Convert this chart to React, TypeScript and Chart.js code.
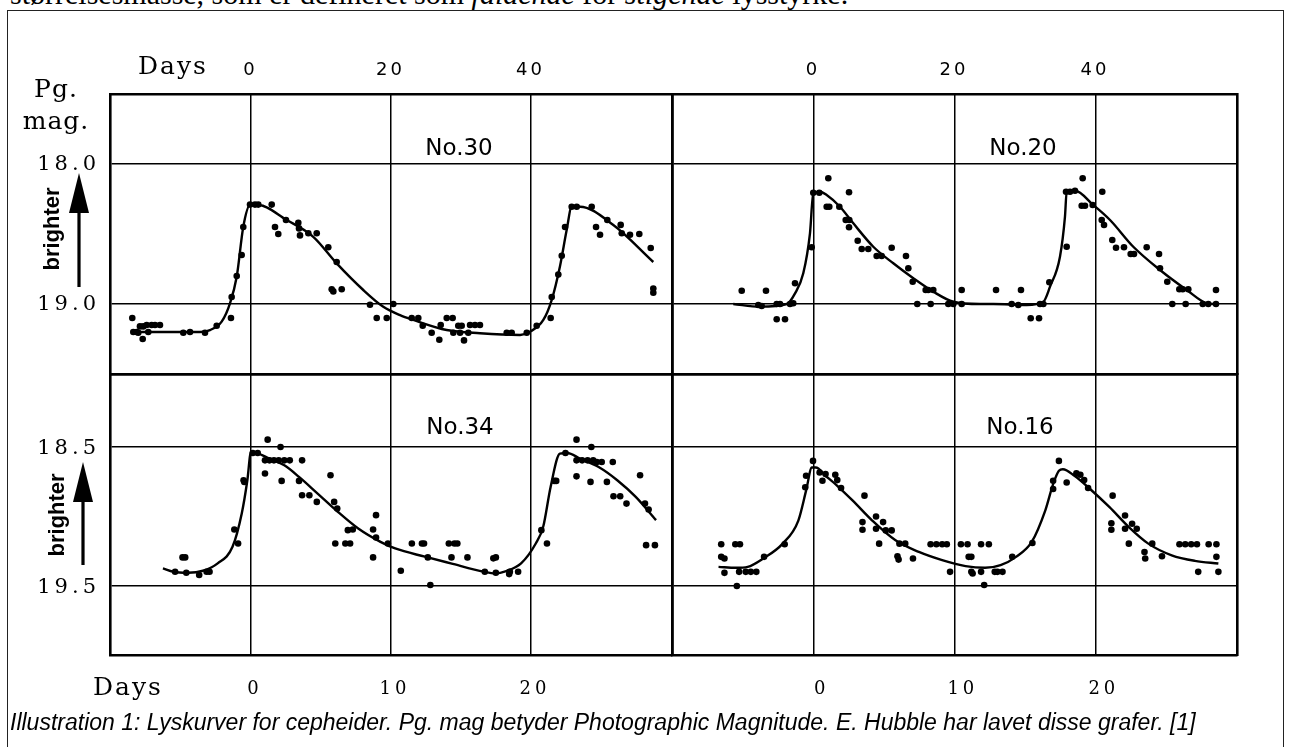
import React, { useEffect, useRef } from "react";
import { Chart, registerables } from "chart.js";

Chart.register(...registerables);

const W = 1291;
const H = 747;

type Pt = [number, number];

// ---------- Data (day, photographic magnitude) ----------
const no30Points: Pt[] = [
  [-16.96, 19.1], [-16.81, 19.2], [-16.33, 19.2], [-15.86, 19.16], [-15.39, 19.16], [-14.9, 19.15],
  [-14.19, 19.15], [-13.71, 19.15], [-13.0, 19.15], [-16.1, 19.205], [-15.47, 19.25], [-14.67, 19.2],
  [-9.67, 19.205], [-8.71, 19.2], [-6.57, 19.205], [-4.9, 19.155], [-2.86, 19.1], [-2.76, 18.95],
  [-2.04, 18.8], [-1.33, 18.65], [-1.1, 18.45], [-0.14, 18.29], [0.57, 18.29], [1.04, 18.29],
  [2.96, 18.29], [3.43, 18.45], [3.9, 18.5], [5.0, 18.4], [6.76, 18.42], [6.86, 18.46], [7.0, 18.51],
  [8.19, 18.495], [9.39, 18.495], [11.04, 18.595], [12.24, 18.7], [11.53, 18.895], [11.76, 18.91],
  [12.96, 18.895], [17.0, 19.005], [17.96, 19.1], [19.39, 19.1], [20.33, 19.0], [22.96, 19.1],
  [23.9, 19.1], [24.53, 19.155], [25.81, 19.205], [26.9, 19.255], [27.1, 19.15], [27.96, 19.1],
  [28.81, 19.1], [28.9, 19.205], [29.61, 19.155], [30.1, 19.155], [29.86, 19.205], [30.43, 19.26],
  [31.04, 19.205], [31.29, 19.15], [32.0, 19.15], [32.71, 19.15], [36.53, 19.205], [37.24, 19.205],
  [39.39, 19.205], [40.81, 19.155], [42.81, 19.1], [42.96, 18.95], [43.9, 18.79], [44.39, 18.655],
  [44.86, 18.45], [45.81, 18.305], [46.53, 18.305], [48.67, 18.305], [49.29, 18.45], [49.86, 18.505],
  [50.9, 18.4], [52.81, 18.435], [52.96, 18.495], [54.14, 18.505], [55.47, 18.5], [57.1, 18.6],
  [57.47, 18.89], [57.47, 18.92],
];
const no30Curve: Pt[] = [
  [-17.04, 19.2], [-7.29, 19.2], [-5.86, 19.186], [-4.19, 19.126], [-3.0, 18.995], [-2.04, 18.805],
  [-1.1, 18.448], [-0.14, 18.293], [1.04, 18.293], [5.1, 18.4], [8.9, 18.52], [12.24, 18.71],
  [16.04, 18.9], [18.9, 19.02], [21.29, 19.08], [23.19, 19.114], [27.96, 19.186], [32.71, 19.209],
  [38.43, 19.221], [39.86, 19.198], [41.76, 19.114], [42.96, 18.97], [44.14, 18.73], [45.1, 18.47],
  [45.81, 18.305], [47.0, 18.305], [51.76, 18.436], [57.47, 18.7],
];

const no20Points: Pt[] = [
  [-10.18, 18.905], [-6.74, 18.905], [-7.83, 19.007], [-7.35, 19.014], [-5.22, 19.0], [-4.75, 19.0],
  [-5.22, 19.109], [-4.04, 19.109], [-3.33, 19.0], [-2.87, 18.995], [-2.62, 18.852], [-0.26, 18.595],
  [-0.03, 18.205], [0.82, 18.205], [1.87, 18.305], [2.24, 18.305], [2.1, 18.102], [3.66, 18.305],
  [4.57, 18.4], [5.08, 18.4], [5.04, 18.452], [5.04, 18.202], [6.27, 18.548], [6.84, 18.607],
  [7.77, 18.607], [8.96, 18.657], [9.67, 18.657], [11.09, 18.598], [13.12, 18.657], [13.45, 18.745],
  [14.07, 18.841], [15.91, 18.9], [16.28, 18.9], [16.99, 18.9], [14.72, 19.0], [16.62, 19.0],
  [19.12, 19.0], [19.83, 19.0], [21.02, 19.0], [21.02, 18.9], [25.89, 18.9], [29.43, 18.9],
  [28.11, 19.0], [29.05, 19.007], [32.13, 19.0], [32.6, 19.0], [30.81, 19.102], [31.99, 19.102],
  [33.45, 18.845], [35.91, 18.591], [35.82, 18.198], [36.38, 18.198], [37.09, 18.191], [38.18, 18.102],
  [38.04, 18.298], [38.51, 18.298], [39.6, 18.293], [40.96, 18.198], [40.88, 18.4], [41.21, 18.436],
  [42.38, 18.543], [42.91, 18.598], [44.04, 18.595], [44.99, 18.643], [45.46, 18.643], [47.26, 18.595],
  [49.01, 18.643], [49.15, 18.745], [50.18, 18.841], [51.89, 18.895], [52.37, 18.895], [53.16, 18.895],
  [50.89, 19.0], [52.79, 19.0], [55.21, 19.0], [56.0, 19.0], [57.09, 19.0], [57.09, 18.9],
];
const no20Curve: Pt[] = [
  [-11.38, 19.0], [-7.59, 19.019], [-3.8, 19.0], [-2.62, 18.924], [-1.45, 18.781], [-0.5, 18.495],
  [-0.03, 18.209], [0.92, 18.198], [1.87, 18.221], [3.76, 18.305], [5.65, 18.424], [8.48, 18.591],
  [11.32, 18.709], [14.16, 18.816], [16.99, 18.912], [19.83, 18.984], [23.62, 19.0], [25.5, 19.0],
  [30.24, 19.007], [32.6, 18.984], [33.55, 18.876], [34.96, 18.662], [35.67, 18.376], [35.91, 18.198],
  [37.09, 18.191], [39.69, 18.293], [42.06, 18.4], [45.36, 18.591], [49.15, 18.757], [52.94, 18.9],
  [55.77, 18.995], [56.7, 19.0],
];

const no34Points: Pt[] = [
  [-4.89, 19.294], [-4.7, 19.294], [-5.42, 19.397], [-4.62, 19.404], [-3.7, 19.421], [-3.17, 19.397],
  [-2.96, 19.397], [-1.19, 19.093], [-0.92, 19.194], [-0.53, 18.739], [-0.48, 18.751], [0.13, 18.543],
  [0.48, 18.543], [1.0, 18.596], [1.32, 18.596], [1.64, 18.596], [1.98, 18.596], [2.38, 18.596],
  [2.77, 18.596], [1.19, 18.447], [2.11, 18.5], [1.0, 18.691], [2.19, 18.744], [3.65, 18.596],
  [3.43, 18.744], [3.65, 18.847], [4.17, 18.847], [4.7, 18.895], [5.68, 18.703], [5.94, 18.895],
  [6.16, 18.943], [6.02, 19.194], [6.74, 19.194], [7.08, 19.194], [6.92, 19.098], [7.27, 19.093],
  [8.93, 18.99], [8.72, 19.093], [8.93, 19.151], [8.72, 19.294], [9.78, 19.194], [10.7, 19.39],
  [11.49, 19.194], [12.21, 19.194], [12.36, 19.194], [12.63, 19.294], [12.81, 19.493], [14.13, 19.194],
  [14.53, 19.194], [14.74, 19.194], [14.32, 19.294], [15.46, 19.294], [16.7, 19.397], [17.31, 19.301],
  [17.49, 19.294], [17.49, 19.404], [18.44, 19.414], [18.49, 19.397], [19.08, 19.397], [20.74, 19.098],
  [21.14, 19.194], [21.66, 18.744], [21.8, 18.744], [22.46, 18.543], [23.25, 18.447], [23.25, 18.596],
  [23.25, 18.711], [23.65, 18.596], [24.04, 18.596], [24.44, 18.596], [24.7, 18.608], [24.31, 18.5],
  [24.25, 18.751], [25.05, 18.608], [25.42, 18.751], [25.84, 18.608], [25.89, 18.854], [26.37, 18.854],
  [26.82, 18.907], [27.79, 18.703], [28.14, 18.907], [28.4, 18.95], [28.22, 19.206], [28.85, 19.206],
];
const no34Curve: Pt[] = [
  [-6.29, 19.373], [-5.55, 19.397], [-4.49, 19.404], [-3.43, 19.39], [-2.38, 19.337], [-1.32, 19.218],
  [-0.66, 18.978], [-0.26, 18.739], [0.0, 18.536], [0.4, 18.543], [1.32, 18.584], [2.38, 18.632],
  [3.43, 18.715], [4.76, 18.835], [6.08, 18.955], [7.66, 19.086], [9.25, 19.182], [10.3, 19.23],
  [12.42, 19.289], [14.27, 19.337], [16.64, 19.397], [17.44, 19.409], [18.23, 19.392], [19.29, 19.337],
  [20.34, 19.194], [20.87, 19.074], [21.4, 18.787], [22.06, 18.548], [22.59, 18.543], [23.51, 18.584],
  [24.83, 18.644], [26.16, 18.739], [27.48, 18.859], [28.93, 19.026],
];

const no16Points: Pt[] = [
  [-6.57, 19.2], [-5.57, 19.2], [-5.24, 19.2], [-6.57, 19.29], [-6.34, 19.302], [-6.34, 19.405],
  [-5.46, 19.5], [-5.3, 19.398], [-4.83, 19.398], [-4.47, 19.398], [-4.08, 19.398], [-3.53, 19.29],
  [-2.07, 19.2], [-0.61, 18.79], [-0.55, 18.707], [-0.06, 18.6], [0.41, 18.683], [0.61, 18.743],
  [0.83, 18.695], [1.52, 18.7], [1.66, 18.738], [1.93, 18.795], [3.59, 18.85], [3.45, 19.04],
  [3.45, 19.095], [4.41, 19.0], [4.41, 19.088], [4.91, 19.04], [5.1, 19.1], [5.52, 19.1],
  [4.63, 19.195], [6.07, 19.195], [6.48, 19.195], [5.93, 19.286], [6.01, 19.31], [7.03, 19.302],
  [8.28, 19.2], [8.69, 19.2], [9.1, 19.2], [9.43, 19.2], [10.43, 19.2], [10.9, 19.2], [10.98, 19.29],
  [11.17, 19.29], [9.66, 19.398], [11.17, 19.398], [11.26, 19.41], [11.86, 19.398], [12.08, 19.493],
  [12.83, 19.398], [13.02, 19.398], [11.86, 19.2], [12.41, 19.2], [13.38, 19.398], [14.07, 19.29],
  [15.5, 19.19], [16.97, 18.802], [16.97, 18.743], [17.38, 18.6], [17.93, 18.755], [18.62, 18.69],
  [18.9, 18.7], [19.17, 18.738], [19.45, 18.795], [21.19, 18.85], [21.1, 19.048], [21.1, 19.095],
  [22.07, 18.993], [22.07, 19.088], [22.57, 19.052], [22.9, 19.088], [22.34, 19.195], [23.45, 19.255],
  [23.5, 19.302], [24.0, 19.195], [24.69, 19.286], [25.93, 19.2], [26.34, 19.2], [26.76, 19.2],
  [27.17, 19.2], [28.0, 19.2], [28.55, 19.2], [28.55, 19.29], [27.26, 19.398], [28.69, 19.398],
];
const no16Curve: Pt[] = [
  [-6.76, 19.362], [-5.52, 19.369], [-4.69, 19.362], [-3.59, 19.302], [-2.21, 19.195], [-1.1, 19.029],
  [-0.55, 18.814], [-0.14, 18.648], [0.14, 18.648], [0.83, 18.707], [1.66, 18.779], [2.76, 18.886],
  [4.14, 19.029], [5.79, 19.171], [7.45, 19.255], [9.1, 19.314], [10.76, 19.357], [12.14, 19.369],
  [13.24, 19.35], [14.34, 19.29], [15.45, 19.183], [16.41, 18.957], [16.97, 18.767], [17.38, 18.671],
  [17.66, 18.66], [18.48, 18.707], [19.59, 18.802], [20.97, 18.933], [22.34, 19.076], [23.72, 19.195],
  [25.38, 19.279], [27.03, 19.319], [28.69, 19.338],
];

// ---------- Ticks & labels ----------
const topDayTicks = [0, 20, 40];
const topDayLabels = ["0", "20", "40"];
const bottomDayTicks = [0, 10, 20];
const bottomDayLabels = ["0", "10", "20"];
const topMagTicks = [18, 19];
const topMagLabels = ["18.0", "19.0"];
const bottomMagTicks = [18.5, 19.5];
const bottomMagLabels = ["18.5", "19.5"];
const starNames = ["No.30", "No.20", "No.34", "No.16"];

const topSentence = ["størrelsesmasse, som er defineret som ", "faldende", " for ", "stigende", " lysstyrke."];
const captionText =
  "Illustration 1: Lyskurver for cepheider. Pg. mag betyder Photographic Magnitude. E. Hubble har lavet disse grafer. [1]";

// ---------- Layout (pixels) ----------
const SERIF = '"DejaVu Serif", serif';
const SANS = '"DejaVu Sans", sans-serif';

const PANELS = [
  {
    name: starNames[0], points: no30Points, curve: no30Curve,
    box: [110, 94, 672, 374], xr: [-20.14, 60.14], yr: [17.5, 19.5],
    xTicks: topDayTicks, yTicks: topMagTicks, title: [459, 155],
    xl: { values: topDayTicks, labels: topDayLabels, base: 75, dx: -2, font: `18px ${SANS}`, ls: 3 },
    yl: { values: topMagTicks, labels: topMagLabels, right: 96, dy: 6, font: `21px ${SERIF}`, ls: 4 },
    decor: true,
  },
  {
    name: starNames[1], points: no20Points, curve: no20Curve,
    box: [672, 94, 1237, 374], xr: [-20.07, 60.07], yr: [17.5, 19.5],
    xTicks: topDayTicks, yTicks: topMagTicks, title: [1023, 155],
    xl: { values: topDayTicks, labels: topDayLabels, base: 75, dx: -2, font: `18px ${SANS}`, ls: 3 },
    yl: null, decor: false,
  },
  {
    name: starNames[2], points: no34Points, curve: no34Curve,
    box: [110, 374, 672, 655], xr: [-10.07, 30.07], yr: [17.975, 19.996],
    xTicks: bottomDayTicks, yTicks: bottomMagTicks, title: [460, 434],
    xl: { values: bottomDayTicks, labels: bottomDayLabels, base: 694, dx: 2, font: `18px ${SERIF}`, ls: 4 },
    yl: { values: bottomMagTicks, labels: bottomMagLabels, right: 96, dy: 7, font: `21px ${SERIF}`, ls: 4 },
    decor: false,
  },
  {
    name: starNames[3], points: no16Points, curve: no16Curve,
    box: [672, 374, 1237, 655], xr: [-10.06, 30.01], yr: [17.975, 19.996],
    xTicks: bottomDayTicks, yTicks: bottomMagTicks, title: [1020, 434],
    xl: { values: bottomDayTicks, labels: bottomDayLabels, base: 694, dx: 6, font: `18px ${SERIF}`, ls: 4 },
    yl: null, decor: false,
  },
];

function drawArrow(ctx: CanvasRenderingContext2D, x: number, tipY: number, baseY: number, endY: number) {
  ctx.beginPath();
  ctx.moveTo(x, tipY);
  ctx.lineTo(x - 10, baseY);
  ctx.lineTo(x + 10, baseY);
  ctx.closePath();
  ctx.fill();
  ctx.fillRect(x - 1.6, baseY - 1, 3.2, endY - baseY + 1);
}

function drawDecor(ctx: CanvasRenderingContext2D) {
  ctx.save();
  ctx.fillStyle = "#000";
  ctx.textBaseline = "alphabetic";
  (ctx as any).letterSpacing = "2px";
  ctx.font = `25px ${SERIF}`;
  ctx.textAlign = "left";
  ctx.fillText("Days", 138, 74);
  ctx.fillText("Days", 93, 695);
  (ctx as any).letterSpacing = "1px";
  ctx.textAlign = "center";
  ctx.fillText("Pg.", 56, 97);
  ctx.fillText("mag.", 56, 129);
  (ctx as any).letterSpacing = "0px";
  ctx.font = `bold 22px "Liberation Sans", Arial, sans-serif`;
  const rot = (cx: number, cy: number) => {
    ctx.save();
    ctx.translate(cx, cy);
    ctx.rotate(-Math.PI / 2);
    ctx.textAlign = "center";
    ctx.textBaseline = "middle";
    ctx.fillText("brighter", 0, 0);
    ctx.restore();
  };
  rot(53, 229);
  rot(58, 515);
  drawArrow(ctx, 79, 173, 213, 287);
  drawArrow(ctx, 83, 462, 502, 565);
  ctx.restore();
}

function makePanelChart(canvas: HTMLCanvasElement, p: any) {
  const [l, t, r, b] = p.box;
  const textPlugin = {
    id: "panelText",
    afterDraw(chart: any) {
      const ctx: CanvasRenderingContext2D = chart.ctx;
      const xs = chart.scales.x;
      const ys = chart.scales.y;
      ctx.save();
      ctx.fillStyle = "#000";
      ctx.textBaseline = "alphabetic";
      ctx.font = `23px ${SANS}`;
      ctx.textAlign = "center";
      (ctx as any).letterSpacing = "0px";
      ctx.fillText(p.name, p.title[0], p.title[1]);
      if (p.xl) {
        ctx.font = p.xl.font;
        (ctx as any).letterSpacing = `${p.xl.ls}px`;
        ctx.textAlign = "center";
        p.xl.values.forEach((v: number, i: number) => {
          ctx.fillText(p.xl.labels[i], xs.getPixelForValue(v) + p.xl.dx + p.xl.ls / 2, p.xl.base);
        });
      }
      if (p.yl) {
        ctx.font = p.yl.font;
        (ctx as any).letterSpacing = `${p.yl.ls}px`;
        ctx.textAlign = "right";
        p.yl.values.forEach((v: number, i: number) => {
          ctx.fillText(p.yl.labels[i], p.yl.right + p.yl.ls, ys.getPixelForValue(v) + p.yl.dy);
        });
      }
      ctx.restore();
      if (p.decor) drawDecor(ctx);
    },
  };
  const edge = { display: true, color: "#000", width: 2.6 };
  const hidden = { display: false, drawTicks: false, tickLength: 0 };
  return new Chart(canvas, {
    type: "scatter",
    data: {
      datasets: [
        {
          data: p.points.map(([x, y]: Pt) => ({ x, y })),
          pointRadius: 3.3,
          pointBackgroundColor: "#000",
          pointBorderWidth: 0,
          showLine: false,
        },
        {
          data: p.curve.map(([x, y]: Pt) => ({ x, y })),
          showLine: true,
          pointRadius: 0,
          borderColor: "#000",
          borderWidth: 2.4,
          cubicInterpolationMode: "monotone",
          fill: false,
        },
      ],
    },
    options: {
      animation: false,
      responsive: false,
      devicePixelRatio: 1,
      events: [],
      layout: { padding: { left: l, top: t, right: W - r, bottom: H - b }, autoPadding: false },
      plugins: { legend: { display: false }, tooltip: { enabled: false }, title: { display: false } },
      scales: {
        x: {
          type: "linear", position: "bottom", min: p.xr[0], max: p.xr[1],
          grid: { color: "#000", lineWidth: 1.5, drawTicks: false, tickLength: 0 },
          border: edge, ticks: { display: false, padding: 0 },
          afterBuildTicks: (axis: any) => { axis.ticks = p.xTicks.map((v: number) => ({ value: v })); },
        },
        x2: {
          type: "linear", position: "top", min: p.xr[0], max: p.xr[1],
          grid: hidden, border: edge, ticks: { display: false, padding: 0 },
        },
        y: {
          type: "linear", position: "left", reverse: true, min: p.yr[0], max: p.yr[1],
          grid: { color: "#000", lineWidth: 1.5, drawTicks: false, tickLength: 0 },
          border: edge, ticks: { display: false, padding: 0 },
          afterBuildTicks: (axis: any) => { axis.ticks = p.yTicks.map((v: number) => ({ value: v })); },
        },
        y2: {
          type: "linear", position: "right", reverse: true, min: p.yr[0], max: p.yr[1],
          grid: hidden, border: edge, ticks: { display: false, padding: 0 },
        },
      },
    } as any,
    plugins: [textPlugin],
  });
}

function Panel({ spec }: { spec: any }) {
  const ref = useRef<HTMLCanvasElement | null>(null);
  useEffect(() => {
    if (!ref.current) return;
    const chart = makePanelChart(ref.current, spec);
    return () => chart.destroy();
  }, [spec]);
  return (
    <canvas
      ref={ref}
      width={W}
      height={H}
      style={{ position: "absolute", left: 0, top: 0, width: W, height: H }}
    />
  );
}

export default function App() {
  return (
    <div
      style={{
        position: "fixed", left: 0, top: 0, width: W, height: H,
        overflow: "hidden", background: "#fff",
      }}
    >
      <div
        style={{
          position: "absolute", left: 10, top: -21, whiteSpace: "nowrap",
          font: '30px "Liberation Serif", serif', lineHeight: "30px", color: "#000",
        }}
      >
        {topSentence[0]}<i>{topSentence[1]}</i>{topSentence[2]}<i>{topSentence[3]}</i>{topSentence[4]}
      </div>
      <div
        style={{
          position: "absolute", left: 7, top: 10, width: 1277, height: 780,
          border: "1px solid #222", boxSizing: "border-box",
        }}
      />
      {PANELS.map((p, i) => (
        <Panel key={i} spec={p} />
      ))}
      <div
        style={{
          position: "absolute", left: 10, top: 710, whiteSpace: "nowrap",
          font: 'italic 23px "Liberation Sans", Arial, sans-serif', lineHeight: "24px", color: "#000",
        }}
      >
        {captionText}
      </div>
    </div>
  );
}
